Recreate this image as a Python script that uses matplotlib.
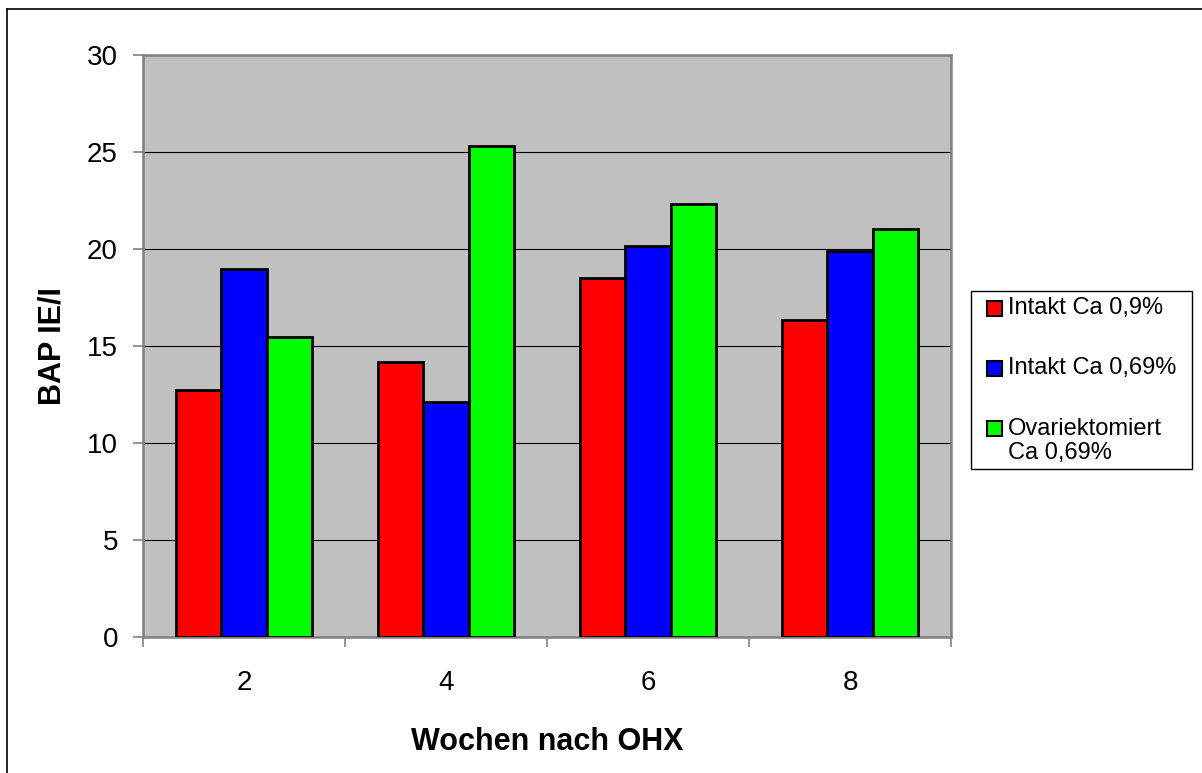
import matplotlib.pyplot as plt
import numpy as np
from matplotlib.patches import Rectangle
from matplotlib.lines import Line2D

plt.rcParams['font.family'] = ['Liberation Sans', 'DejaVu Sans']

weeks = ['2', '4', '6', '8']
series = ['Intakt Ca 0,9%', 'Intakt Ca 0,69%', 'Ovariektomiert\nCa 0,69%']
intakt_09 = [12.75, 14.18, 18.48, 16.32]
intakt_069 = [18.95, 12.12, 20.16, 19.91]
ovx_069 = [15.45, 25.30, 22.34, 21.02]
colors = ['#FF0000', '#0000FF', '#00FF00']

fig = plt.figure(figsize=(12.02, 7.73), dpi=100)
ax = fig.add_axes([143/1202, 1 - 637/773, 808/1202, 582/773])
ax.set_facecolor('#C0C0C0')

x = np.arange(len(weeks))
w = 0.226
for i, (vals, c) in enumerate(zip([intakt_09, intakt_069, ovx_069], colors)):
    ax.bar(x + (i - 1) * w, vals, w, color=c, edgecolor='black', linewidth=2.0, zorder=3)

ax.set_xlim(-0.5, 3.5)
ax.set_ylim(0, 30)
ax.set_yticks(np.arange(0, 31, 5))
ax.yaxis.grid(True, color='black', linewidth=0.8, zorder=1)
ax.set_axisbelow(True)

# category borders as major ticks, labels on minor ticks
ax.set_xticks(np.arange(-0.5, 4, 1))
ax.set_xticklabels([])
ax.set_xticks(x, minor=True)
ax.set_xticklabels(weeks, minor=True)
ax.tick_params(axis='x', which='major', length=7, width=1.2, color='#808080', direction='out')
ax.tick_params(axis='x', which='minor', length=0, pad=24, labelsize=20)
ax.tick_params(axis='y', length=7, width=1.2, color='#808080', pad=11, labelsize=20)

for s in ax.spines.values():
    s.set_color('#808080')
    s.set_linewidth(1.8)

ax.set_xlabel('Wochen nach OHX', fontsize=22, fontweight='bold', labelpad=22)
ax.set_ylabel('BAP IE/I', fontsize=22, fontweight='bold')
ax.yaxis.set_label_coords(-0.093, 0.5)

# legend box drawn by hand
W, H = 1202, 773
fig.patches.append(Rectangle((971/W, 1 - 469/H), 221/W, 178/H, transform=fig.transFigure,
                             facecolor='white', edgecolor='black', linewidth=1.0))
ys = [308, 368, 428]
for lab, c, yy in zip(series, colors, ys):
    fig.patches.append(Rectangle((987/W, 1 - (yy + 8)/H), 15/W, 15/H, transform=fig.transFigure,
                                 facecolor=c, edgecolor='black', linewidth=1.5))
    ty = yy + 13 if '\n' in lab else yy
    fig.text(1008/W, 1 - ty/H, lab, fontsize=17, va='center', ha='left', linespacing=1.1)

# outer frame (left and top visible)
fig.add_artist(Line2D([7/W, 7/W], [0, 1 - 9/H], color='black', linewidth=1.2, transform=fig.transFigure))
fig.add_artist(Line2D([7/W, 1], [1 - 9/H, 1 - 9/H], color='black', linewidth=1.2, transform=fig.transFigure))

fig.savefig('out.png', dpi=100)
